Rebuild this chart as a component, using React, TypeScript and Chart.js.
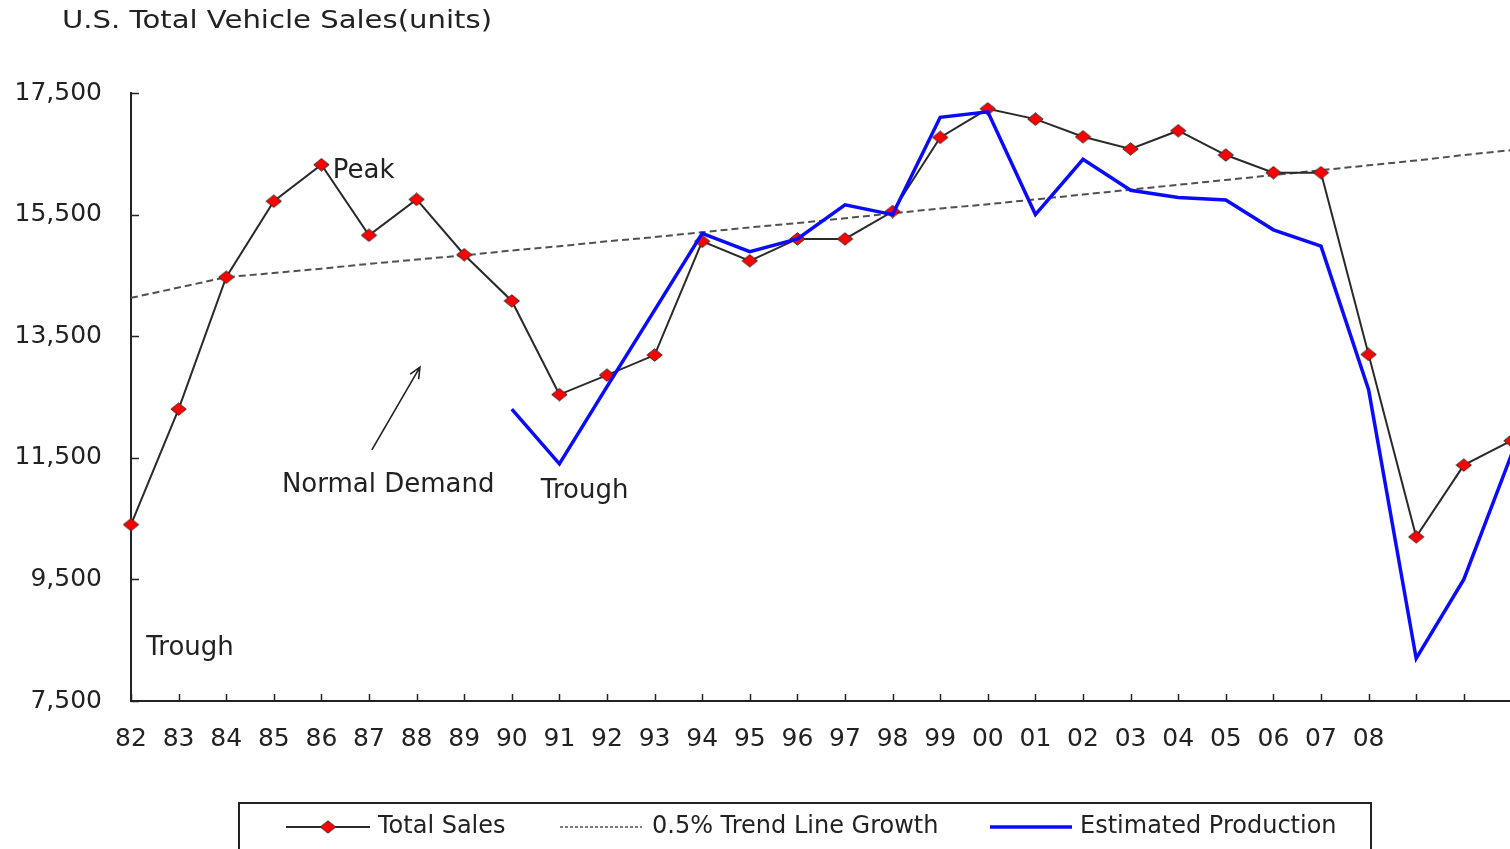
import { useEffect, useRef } from 'react';
import { Chart, registerables } from 'chart.js';

Chart.register(...registerables);

// Model years shown on the axis (positions after '08' carry no label)
const yearLabels = ['82', '83', '84', '85', '86', '87', '88', '89', '90', '91', '92', '93', '94', '95', '96', '97', '98', '99', '00', '01', '02', '03', '04', '05', '06', '07', '08'];

// Thousands of units, one entry per year from '82 to '11
const totalSales = [10400, 12300, 14470, 15720, 16320, 15160, 15750, 14840, 14080, 12540, 12860, 13190, 15060, 14740, 15100, 15100, 15550, 16770, 17240, 17070, 16780, 16580, 16880, 16480, 16190, 16190, 13200, 10200, 11380, 11780];

const trendLine = [14130, 14300, 14470, 14540, 14610, 14690, 14760, 14830, 14910, 14980, 15060, 15130, 15210, 15290, 15360, 15440, 15520, 15600, 15670, 15750, 15830, 15910, 15990, 16070, 16150, 16230, 16310, 16390, 16480, 16560];

// Production estimates begin in '90
const estimatedProduction = [null, null, null, null, null, null, null, null, 12300, 11400, 12670, 13930, 15190, 14890, 15100, 15660, 15500, 17100, 17190, 15500, 16410, 15900, 15780, 15740, 15250, 14980, 12620, 8200, 9500, 11550];

const yTicks = [7500, 9500, 11500, 13500, 15500, 17500];

const seriesNames = ['Total Sales', '0.5% Trend Line Growth', 'Estimated Production'];

// Text notes placed in data space: x = year position, y = units
const notes = [
  { text: 'Peak', x: 4.24, y: 16220 },
  { text: 'Normal Demand', x: 3.17, y: 11050 },
  { text: 'Trough', x: 8.61, y: 10950 },
  { text: 'Trough', x: 0.32, y: 8360 },
];
const arrowNote = { from: { x: 5.06, y: 11630 }, to: { x: 6.07, y: 12990 } };

const FONT = "'DejaVu Sans', sans-serif";
const INK = '#222';

function makeDiamond(): HTMLCanvasElement {
  const c = document.createElement('canvas');
  c.width = 17;
  c.height = 14;
  const g = c.getContext('2d')!;
  g.beginPath();
  g.moveTo(8.5, 0.8);
  g.lineTo(16.2, 7);
  g.lineTo(8.5, 13.2);
  g.lineTo(0.8, 7);
  g.closePath();
  g.fillStyle = '#ff0000';
  g.fill();
  g.strokeStyle = '#333';
  g.lineWidth = 1;
  g.stroke();
  return c;
}

const toPoints = (arr: (number | null)[]) => arr.map((v, i) => ({ x: i, y: v }));

export default function App() {
  const ref = useRef<HTMLCanvasElement | null>(null);

  useEffect(() => {
    const canvas = ref.current;
    if (!canvas) return;
    const diamond = makeDiamond();

    const decorations = {
      id: 'decorations',
      beforeDatasetsDraw(chart: any) {
        const { ctx, scales } = chart;
        const xs = scales.x;
        const ys = scales.y;
        ctx.save();
        ctx.strokeStyle = INK;
        ctx.lineWidth = 1.5;
        // inward tick marks on the category axis
        for (let i = 0; i <= Math.floor(xs.max); i++) {
          const px = Math.round(xs.getPixelForValue(i)) + 0.5;
          ctx.beginPath();
          ctx.moveTo(px, xs.top);
          ctx.lineTo(px, xs.top - 7);
          ctx.stroke();
        }
        // inward tick marks on the value axis
        yTicks.forEach((v) => {
          const py = Math.round(ys.getPixelForValue(v)) + 0.5;
          ctx.beginPath();
          ctx.moveTo(ys.right, py);
          ctx.lineTo(ys.right + 8, py);
          ctx.stroke();
        });
        ctx.restore();
      },
      afterDraw(chart: any) {
        const { ctx, scales, data } = chart;
        const xs = scales.x;
        const ys = scales.y;
        ctx.save();

        // title, slightly widened
        ctx.fillStyle = INK;
        ctx.font = `25px ${FONT}`;
        ctx.textBaseline = 'middle';
        ctx.textAlign = 'left';
        const title = 'U.S. Total Vehicle Sales(units)';
        const tw = ctx.measureText(title).width;
        ctx.save();
        ctx.translate(62, 21);
        ctx.scale(430 / tw, 1);
        ctx.fillText(title, 0, 0);
        ctx.restore();

        // notes
        ctx.font = `26px ${FONT}`;
        notes.forEach((n) => {
          ctx.fillText(n.text, xs.getPixelForValue(n.x), ys.getPixelForValue(n.y));
        });

        // arrow
        const ax = xs.getPixelForValue(arrowNote.from.x);
        const ay = ys.getPixelForValue(arrowNote.from.y);
        const bx = xs.getPixelForValue(arrowNote.to.x);
        const by = ys.getPixelForValue(arrowNote.to.y);
        ctx.strokeStyle = INK;
        ctx.lineWidth = 1.6;
        ctx.beginPath();
        ctx.moveTo(ax, ay);
        ctx.lineTo(bx, by);
        const ang = Math.atan2(ay - by, ax - bx);
        const head = 12;
        ctx.moveTo(bx + head * Math.cos(ang + 0.42), by + head * Math.sin(ang + 0.42));
        ctx.lineTo(bx, by);
        ctx.lineTo(bx + head * Math.cos(ang - 0.42), by + head * Math.sin(ang - 0.42));
        ctx.stroke();

        // legend box
        ctx.lineWidth = 2;
        ctx.strokeStyle = INK;
        ctx.strokeRect(239, 803, 1132, 80);

        const ly = 827;
        const items = [
          { ds: data.datasets[0], x0: 286, x1: 370, tx: 378 },
          { ds: data.datasets[1], x0: 560, x1: 642, tx: 652 },
          { ds: data.datasets[2], x0: 990, x1: 1072, tx: 1080 },
        ];
        items.forEach((it, idx) => {
          ctx.save();
          ctx.strokeStyle = it.ds.borderColor;
          ctx.lineWidth = idx === 1 ? 1.5 : it.ds.borderWidth;
          ctx.setLineDash(idx === 1 ? [3, 2] : []);
          ctx.beginPath();
          ctx.moveTo(it.x0, ly);
          ctx.lineTo(it.x1, ly);
          ctx.stroke();
          ctx.restore();
          if (idx === 0) {
            ctx.drawImage(diamond, (it.x0 + it.x1) / 2 - diamond.width / 2, ly - diamond.height / 2);
          }
          ctx.fillStyle = INK;
          ctx.font = `24px ${FONT}`;
          ctx.textAlign = 'left';
          ctx.textBaseline = 'middle';
          ctx.fillText(it.ds.label, it.tx, ly);
        });

        ctx.restore();
      },
    };

    const chart = new Chart(canvas, {
      type: 'line',
      data: {
        datasets: [
          {
            label: seriesNames[0],
            data: toPoints(totalSales),
            borderColor: '#2a2a2a',
            borderWidth: 2,
            pointStyle: diamond,
            pointRadius: 7,
            clip: { left: 10, top: 10, right: 10, bottom: 10 },
            order: 1,
          },
          {
            label: seriesNames[1],
            data: toPoints(trendLine),
            borderColor: '#505050',
            borderWidth: 2,
            borderDash: [7, 4],
            pointRadius: 0,
            order: 2,
          },
          {
            label: seriesNames[2],
            data: toPoints(estimatedProduction),
            borderColor: '#0a0aff',
            borderWidth: 3.5,
            pointRadius: 0,
            order: 0,
          },
        ],
      },
      options: {
        responsive: false,
        animation: false,
        events: [],
        layout: { autoPadding: false, padding: { top: 93, left: 0, right: 0, bottom: 0 } },
        plugins: {
          legend: { display: false },
          tooltip: { enabled: false },
          title: { display: false },
        },
        scales: {
          x: {
            type: 'linear',
            min: 0,
            max: 1379 / 47.6,
            afterFit: (s: any) => {
              s.height = 148;
              s.paddingLeft = 0;
              s.paddingRight = 0;
            },
            border: { display: true, color: INK, width: 2 },
            grid: { display: true, drawOnChartArea: false, drawTicks: false },
            ticks: {
              stepSize: 1,
              includeBounds: false,
              autoSkip: false,
              maxRotation: 0,
              padding: 23,
              color: INK,
              font: { family: FONT, size: 25 },
              callback: (v: any) => yearLabels[v] ?? '',
            },
          },
          y: {
            min: 7500,
            max: 17500,
            afterFit: (s: any) => {
              s.width = 131;
              s.paddingTop = 0;
              s.paddingBottom = 0;
            },
            border: { display: true, color: INK, width: 2 },
            grid: { display: true, drawOnChartArea: false, drawTicks: false },
            ticks: {
              stepSize: 2000,
              padding: 29,
              color: INK,
              font: { family: FONT, size: 25 },
              callback: (v: any) => Number(v).toLocaleString('en-US'),
            },
          },
        },
      },
      plugins: [decorations],
    } as any);

    return () => chart.destroy();
  }, []);

  return (
    <div style={{ position: 'fixed', left: 0, top: 0, width: 1510, height: 849, background: '#fff', overflow: 'hidden' }}>
      <canvas ref={ref} width={1510} height={849} style={{ display: 'block' }} />
    </div>
  );
}
